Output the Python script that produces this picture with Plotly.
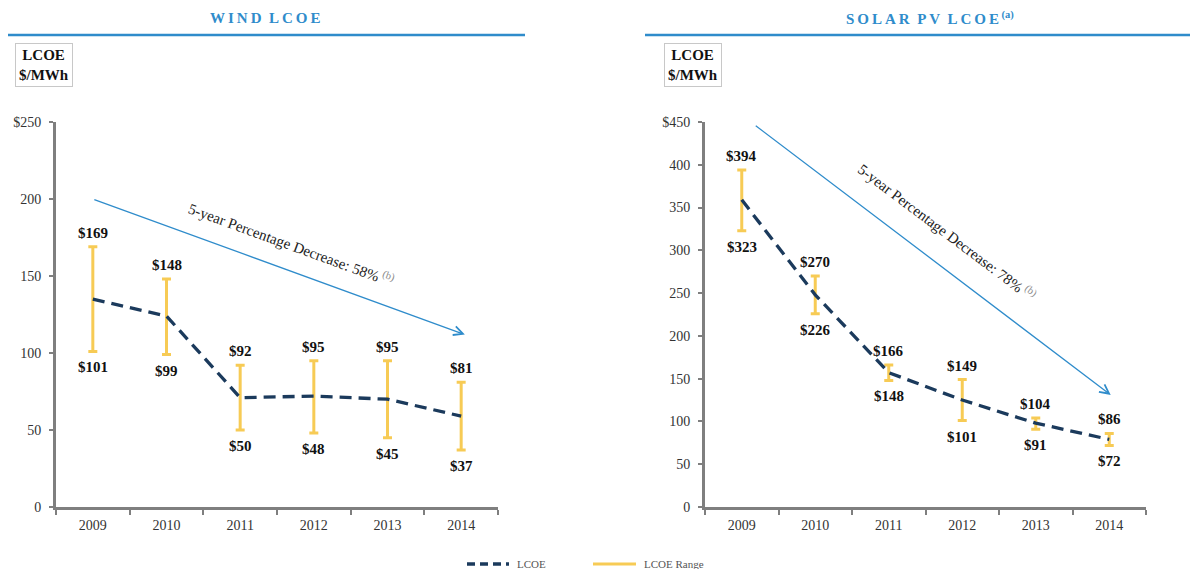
import plotly.graph_objects as go

# ---------------- data ----------------
years = ["2009", "2010", "2011", "2012", "2013", "2014"]

wind_lcoe = [135, 124, 71, 72, 70, 59]
wind_high = [169, 148, 92, 95, 95, 81]
wind_low = [101, 99, 50, 48, 45, 37]

solar_lcoe = [359, 248, 157, 125, 98, 79]
solar_high = [394, 270, 166, 149, 104, 86]
solar_low = [323, 226, 148, 101, 91, 72]

wind_yticks = [0, 50, 100, 150, 200, 250]
wind_yticktext = ["0", "50", "100", "150", "200", "$250"]
solar_yticks = [0, 50, 100, 150, 200, 250, 300, 350, 400, 450]
solar_yticktext = ["0", "50", "100", "150", "200", "250", "300", "350", "400", "$450"]

# trend arrows (tail -> head, category index / value)
wind_arrow_tail = (0.0, 200)
wind_arrow_head = (5.05, 112)
solar_arrow_tail = (0.17, 447)
solar_arrow_head = (5.02, 131)
wind_decrease = "58%"
solar_decrease = "78%"

# ---------------- style ----------------
FONT = "Liberation Serif"
NAVY = "#1b3a5c"
YELLOW = "#f7cb55"
BLUE = "#2f8ccb"
AXIS = "#7f7f7f"
W, H = 1190, 569

fig = go.Figure()

def add_panel(xref, yref, lcoe, hi, lo):
    # range bars
    fig.add_trace(go.Scatter(
        x=years, y=lcoe, mode="markers", xaxis=xref, yaxis=yref,
        marker=dict(size=1, color="rgba(0,0,0,0)"),
        error_y=dict(type="data", symmetric=False,
                     array=[h - v for h, v in zip(hi, lcoe)],
                     arrayminus=[v - l for v, l in zip(lcoe, lo)],
                     color=YELLOW, thickness=3, width=4.5),
        showlegend=False, hoverinfo="skip"))
    # LCOE line
    fig.add_trace(go.Scatter(
        x=years, y=lcoe, mode="lines", xaxis=xref, yaxis=yref,
        line=dict(color=NAVY, width=3.3, dash="12px,7px"),
        name="LCOE", showlegend=False))
    # labels
    for i, (h, l) in enumerate(zip(hi, lo)):
        fig.add_annotation(x=i, y=h, xref=xref, yref=yref, text=f"<b>${h}</b>",
                           showarrow=False, yshift=14, xanchor="center", yanchor="middle",
                           font=dict(family=FONT, size=15, color="#111"))
        fig.add_annotation(x=i, y=l, xref=xref, yref=yref, text=f"<b>${l}</b>",
                           showarrow=False, yshift=-16, xanchor="center", yanchor="middle",
                           font=dict(family=FONT, size=15, color="#111"))

add_panel("x", "y", wind_lcoe, wind_high, wind_low)
add_panel("x2", "y2", solar_lcoe, solar_high, solar_low)

# arrows + rotated text
for xref, yref, tail, head, pct, tx, ty, ang in [
    ("x", "y", wind_arrow_tail, wind_arrow_head, wind_decrease, 2.7, 171, 20),
    ("x2", "y2", solar_arrow_tail, solar_arrow_head, solar_decrease, 2.8, 322, 37),
]:
    fig.add_annotation(x=head[0], y=head[1], ax=tail[0], ay=tail[1],
                       xref=xref, yref=yref, axref=xref, ayref=yref,
                       showarrow=True, arrowhead=5, arrowsize=1.4,
                       arrowwidth=1.3, arrowcolor=BLUE, text="")
    fig.add_annotation(x=tx, y=ty, xref=xref, yref=yref, showarrow=False,
                       textangle=ang, xanchor="center", yanchor="middle",
                       text=f"5-year Percentage Decrease: {pct}<sup><span style='color:#888'> (b)</span></sup>",
                       font=dict(family=FONT, size=15, color="#222"))

# titles, underline rules and unit boxes
def spaced(s):
    return "\u2009".join(s)

def px(x, y):
    return x / W, 1 - y / H

tx_, ty_ = px(265, 18)
fig.add_annotation(x=tx_, y=ty_, xref="paper", yref="paper", xanchor="center", yanchor="middle",
                   text=f"<b>{spaced('WIND')}  {spaced('LCOE')}</b>", showarrow=False,
                   font=dict(family=FONT, size=15, color=BLUE))
tx_, ty_ = px(930, 18)
fig.add_annotation(x=tx_, y=ty_, xref="paper", yref="paper", xanchor="center", yanchor="middle",
                   text=f"<b>{spaced('SOLAR')}  {spaced('PV')}  {spaced('LCOE')}</b><sup><b> (a)</b></sup>",
                   showarrow=False, font=dict(family=FONT, size=15, color=BLUE))
fig.add_shape(type="line", xref="paper", yref="paper", x0=8 / W, x1=525 / W,
              y0=1 - 35 / H, y1=1 - 35 / H, line=dict(color=BLUE, width=2.5))
fig.add_shape(type="line", xref="paper", yref="paper", x0=645 / W, x1=1.0,
              y0=1 - 35 / H, y1=1 - 35 / H, line=dict(color=BLUE, width=2.5))
for cx in (43.5, 692.5):
    bx, by = px(cx, 64.5)
    fig.add_annotation(x=bx, y=by, xref="paper", yref="paper", xanchor="center", yanchor="middle",
                       text="<b>LCOE</b><br><b>$/MWh</b>", showarrow=False,
                       bordercolor="#c8c8c8", borderwidth=1, borderpad=3,
                       font=dict(family=FONT, size=15, color="#111"))

# legend (drawn manually at the bottom edge)
ly = 1 - 564 / H
fig.add_shape(type="line", xref="paper", yref="paper", x0=467 / W, x1=509 / W, y0=ly, y1=ly,
              line=dict(color=NAVY, width=3.3, dash="8px,5px"))
fig.add_annotation(x=515 / W, y=ly, xref="paper", yref="paper", xanchor="left", yanchor="middle",
                   text="LCOE", showarrow=False, font=dict(family=FONT, size=11, color="#555"))
fig.add_shape(type="line", xref="paper", yref="paper", x0=593 / W, x1=636 / W, y0=ly, y1=ly,
              line=dict(color=YELLOW, width=3))
fig.add_annotation(x=642 / W, y=ly, xref="paper", yref="paper", xanchor="left", yanchor="middle",
                   text="LCOE Range", showarrow=False, font=dict(family=FONT, size=11, color="#555"))

axis_common = dict(showline=True, linecolor=AXIS, linewidth=3, ticks="outside",
                   tickcolor=AXIS, tickwidth=2, showgrid=False, zeroline=False,
                   tickfont=dict(family=FONT, size=14, color="#333"))

fig.update_layout(
    width=W, height=H,
    margin=dict(l=0, r=0, t=0, b=0, autoexpand=False),
    paper_bgcolor="white", plot_bgcolor="white",
    showlegend=False,
    xaxis=dict(domain=[56 / W, 498 / W], type="category", anchor="y",
               tickson="boundaries", ticklen=5, range=[-0.5, 5.5],
               ticklabelstandoff=3, **axis_common),
    yaxis=dict(domain=[1 - 507 / H, 1 - 122 / H], anchor="x", range=[0, 250],
               tickvals=wind_yticks, ticktext=wind_yticktext, ticklen=4,
               ticklabelstandoff=5, **axis_common),
    xaxis2=dict(domain=[705 / W, 1146 / W], type="category", anchor="y2",
                tickson="boundaries", ticklen=5, range=[-0.5, 5.5],
                ticklabelstandoff=3, **axis_common),
    yaxis2=dict(domain=[1 - 507 / H, 1 - 122 / H], anchor="x2", range=[0, 450],
                tickvals=solar_yticks, ticktext=solar_yticktext, ticklen=4,
                ticklabelstandoff=5, **axis_common),
)

fig.write_html("out.html", config={"displayModeBar": False},
               post_script="document.body.style.margin='0';document.body.style.overflow='hidden';")
